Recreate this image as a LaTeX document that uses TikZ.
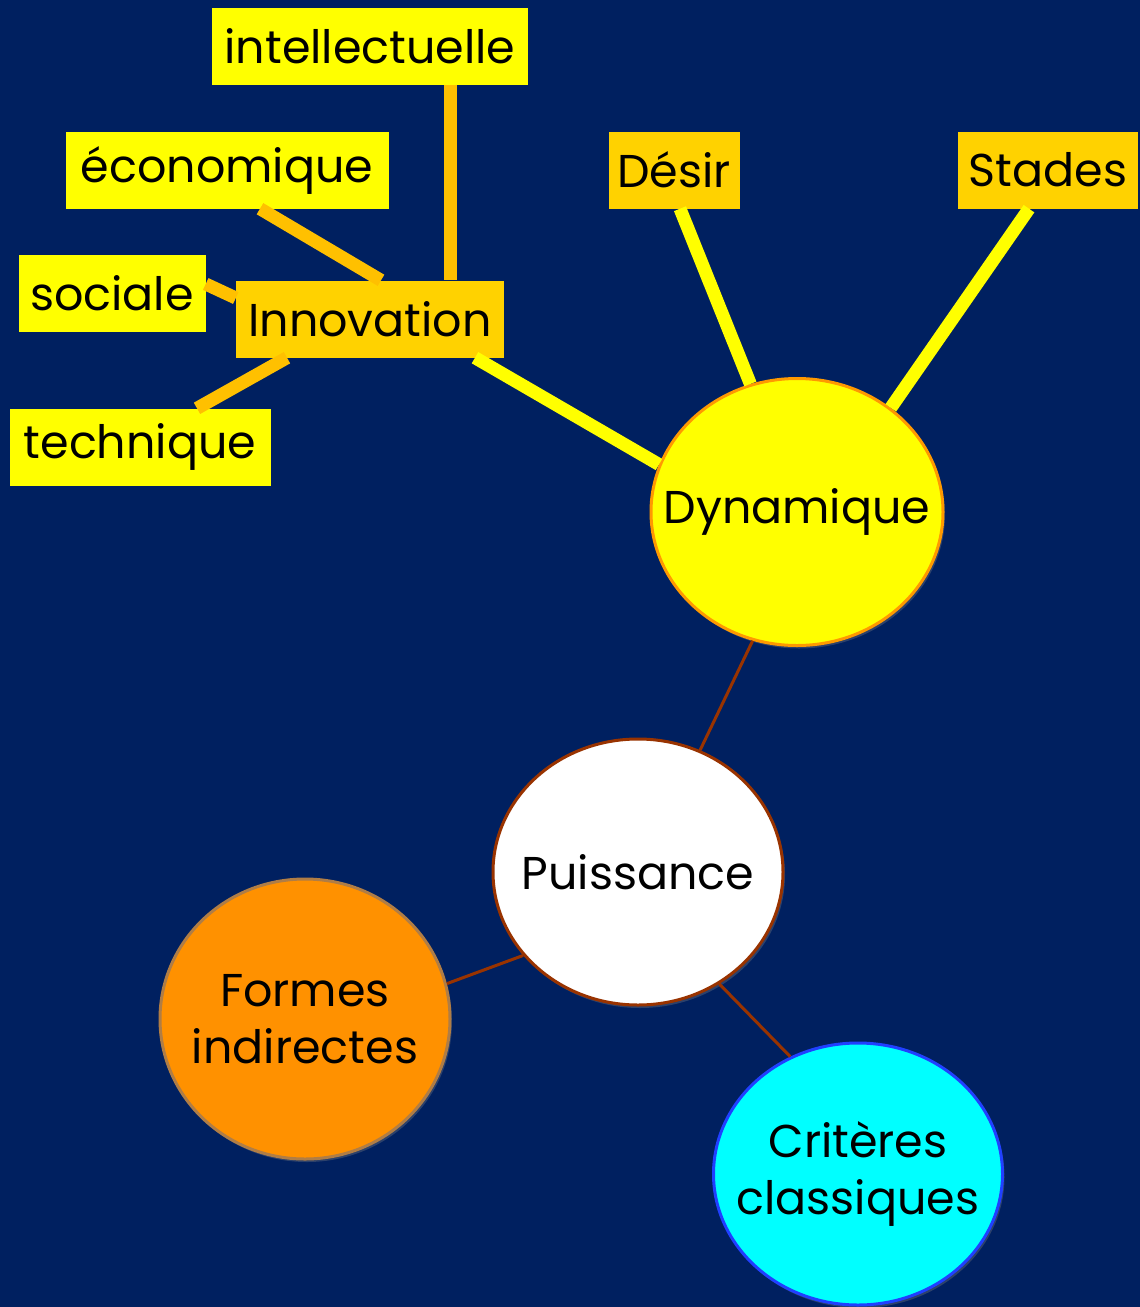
\documentclass[tikz,border=0pt]{standalone}
\usepackage{fontspec}
\setmainfont{Poppins}
\usetikzlibrary{shapes.geometric,shadows}
\definecolor{navy}{HTML}{002060}
\definecolor{leafyellow}{HTML}{FFFF00}
\definecolor{boxgold}{HTML}{FFD200}
\definecolor{linegold}{HTML}{FFC000}
\definecolor{brick}{HTML}{993300}
\definecolor{dynborder}{HTML}{FF9900}
\definecolor{formfill}{HTML}{FF9100}
\definecolor{formborder}{HTML}{B07D45}
\definecolor{critfill}{HTML}{00FFFF}
\definecolor{critborder}{HTML}{2040FF}
\begin{document}
\begin{tikzpicture}[x=1pt, y=-1pt, font=\fontsize{46}{57}\selectfont,
  leaf box/.style={rectangle,fill=leafyellow,minimum height=77pt,inner sep=0pt},
  gold box/.style={leaf box,fill=boxgold},
  main node/.style={ellipse,draw,line width=3pt,inner ysep=0pt,inner xsep=-40pt,align=center,
    drop shadow={opacity=0.35,shadow xshift=2pt,shadow yshift=-3pt}},
  gold line/.style={draw=linegold,line width=13pt},
  yellow line/.style={draw=leafyellow,line width=13pt},
  thin line/.style={draw=brick,line width=3pt}]
\fill[navy] (0,0) rectangle (1140,1307);
\useasboundingbox (0,0) rectangle (1140,1307);
% boxes
\node [leaf box, minimum width=316pt](intel) at (370,46) {intellectuelle};
\node [leaf box, minimum width=323pt](econ) at (227,170) {économique};
\node [leaf box, minimum width=187pt](soc) at (112,293) {sociale};
\node [gold box, minimum width=268pt](innov) at (370,319) {Innovation};
\node [leaf box, minimum width=261pt](tech) at (140,447) {technique};
\node [gold box, minimum width=131pt](desir) at (674,170) {Désir};
\node [gold box, minimum width=180pt](stades) at (1048,170) {Stades};
% circles
\node [main node, fill=leafyellow, draw=dynborder, minimum width=292pt, minimum height=267pt](dyn) at (797,512) {Dynamique};
\node [main node, fill=white, draw=brick, minimum width=290pt, minimum height=266pt](puis) at (638,872) {Puissance};
\node [main node, fill=formfill, draw=formborder, minimum width=290pt, minimum height=280pt](form) at (305,1019) {Formes\\indirectes};
\node [main node, fill=critfill, draw=critborder, minimum width=289pt, minimum height=262pt](crit) at (858,1174) {Critères\\classiques};
\path [gold line]
	([xshift=80pt]intel.south) edge ([xshift=80pt]innov.north)
	([xshift=33pt]econ.south) edge ([xshift=11pt]innov.north)
	([yshift=9pt]soc.east) edge ([yshift=21pt]innov.west)
	([xshift=57pt]tech.north) edge ([xshift=-83pt]innov.south)
	;
\path [yellow line]
	([xshift=105pt]innov.south) edge (dyn.161)
	([xshift=6pt]desir.south) edge (dyn.110)
	([xshift=-19pt]stades.south) edge (dyn.48)
	;
\path [thin line]
	(dyn.-109) edge (puis.63)
	(puis.216) edge (form.14)
	(puis.-54) edge (crit.120)
	;
\end{tikzpicture}
\end{document}
